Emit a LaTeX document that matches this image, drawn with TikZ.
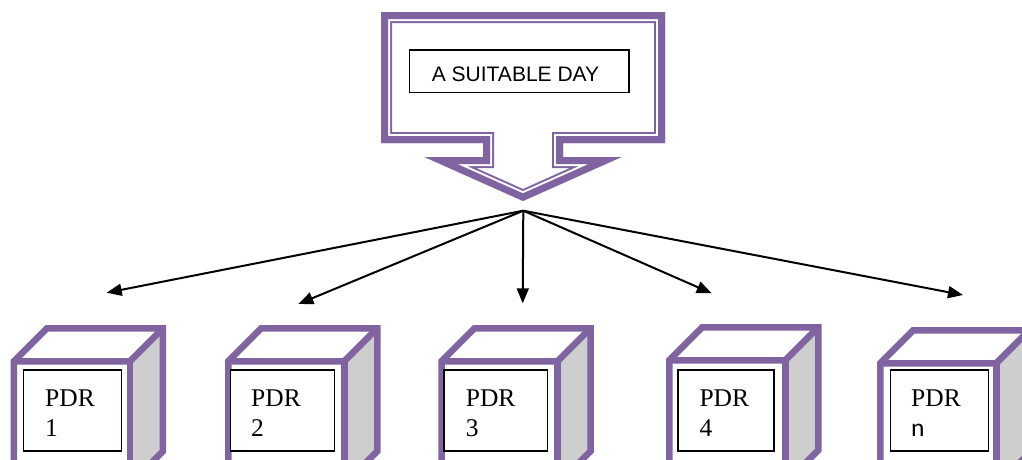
\documentclass[tikz,border=0pt]{standalone}
\usepackage{fontspec}
\setmainfont{Liberation Serif}
\newfontfamily\labelsans{Liberation Sans}
\newfontfamily\carlito{Carlito}
\usetikzlibrary{arrows.meta}
\definecolor{calloutpurple}{RGB}{128,100,162}
\definecolor{sidegray}{RGB}{206,206,206}

\tikzset{
  cubeedge/.style={draw=calloutpurple, line width=6.5pt, line join=miter},
  labelbox/.style={draw=black, line width=1.2pt, fill=white, rectangle, inner sep=0pt,
    minimum height=81pt, anchor=north west},
  fanarrow/.style={-{Triangle[length=15pt,width=12pt]}, line width=2pt, black},
  pdrtext/.style={font=\fontsize{25.5}{30}\selectfont, inner sep=0pt, anchor=base west},
  daytext/.style={font=\labelsans\fontsize{21}{25}\selectfont, inner sep=0pt, anchor=base},
}

\begin{document}
\begin{tikzpicture}[x=1pt,y=-1pt]
\useasboundingbox (0,0) rectangle (1022,459);
\clip (0,0) rectangle (1022,459);
\fill[white] (0,0) rectangle (1022,459);

% down-arrow callout with a thick-thin border drawn on the inside of its outline
\def\calloutoutline{(381,12) -- (665,12) -- (665,143) -- (563,143) -- (563,157) -- (621.5,157)
  -- (523,201) -- (424.5,157) -- (483,157) -- (483,143) -- (381,143) -- cycle}
\begin{scope}
  \clip \calloutoutline;
  \draw[calloutpurple, line width=22pt, line join=miter] \calloutoutline;
  \draw[white, line width=18pt, line join=miter] \calloutoutline;
  \draw[calloutpurple, line width=14pt, line join=miter] \calloutoutline;
\end{scope}

\node[draw=black, line width=1.2pt, fill=white, inner sep=0pt,
  minimum width=219.7pt, minimum height=42.7pt] (daybox) at (519.2,71.3) {};
\node[daytext] (day) at (515.5,81) {A SUITABLE DAY};

% cubes: name / outer left / outer top / label box left / box width / text left / second line
\foreach \name/\ox/\oy/\bx/\bw/\tx/\lab in {
    c1/10.7/358/22.7/98/45/1,
    c2/225/358/230/104/251/2,
    c3/438.3/358/443.3/103.4/465.7/3,
    c4/666/357/677.3/96/699.3/4,
    c5/877/360/890/97.7/911/{\carlito n}} {
  \begin{scope}[shift={(\ox+3.25,\oy+3.25)}]
    % faces
    \fill[sidegray] (116,0) -- (149,-33) -- (149,90) -- (116,123) -- cycle;
    \fill[white] (0,0) -- (33,-33) -- (149,-33) -- (116,0) -- cycle;
    \fill[white] (0,0) rectangle (116,123);
    % silhouette and inner edges
    \draw[cubeedge] (0,123) -- (0,0) -- (33,-33) -- (149,-33) -- (149,90) -- (116,123) -- cycle;
    \draw[cubeedge] (0,0) -- (116,0) -- (149,-33);
    \draw[cubeedge] (116,0) -- (116,123);
  \end{scope}
  \node[labelbox, minimum width=\bw pt] (box-\name) at (\bx,369.3) {};
  \node[pdrtext] (pdr-\name) at (\tx,406.7) {PDR};
  \node[pdrtext] (num-\name) at (\tx,436.7) {\lab};
}

% fan of arrows from the callout tip
\coordinate (apex) at (523.3,210.7);
\coordinate (t1) at (106.7,292.7);
\coordinate (t2) at (298.3,304);
\coordinate (t3) at (522.7,303.3);
\coordinate (t4) at (711.7,293.3);
\coordinate (t5) at (963,295);
\foreach \t in {t1,t2,t3,t4,t5}
  \draw[fanarrow] (apex) -- (\t);
\end{tikzpicture}
\end{document}
